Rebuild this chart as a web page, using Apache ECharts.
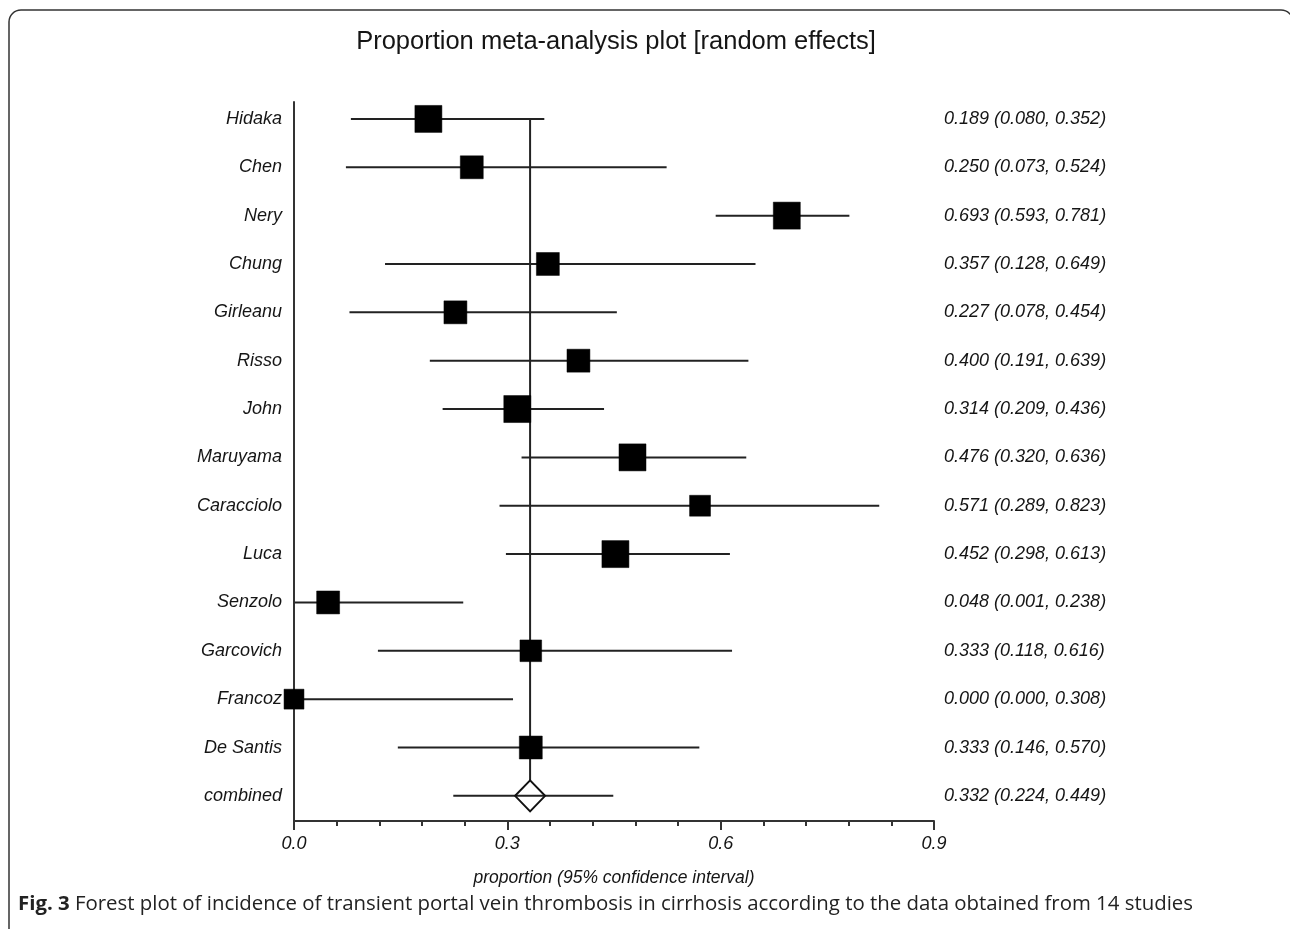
<!DOCTYPE html>
<html>
<head>
<meta charset="utf-8">
<script src="https://cdn.jsdelivr.net/npm/echarts@6/dist/echarts.min.js"></script>
<style>html,body{margin:0;padding:0;background:#fff}#c{width:1290px;height:929px}</style>
</head>
<body>
<div id="c"></div>
<script>
var studies = ['Hidaka','Chen','Nery','Chung','Girleanu','Risso','John','Maruyama','Caracciolo','Luca','Senzolo','Garcovich','Francoz','De Santis'];
var estimates = [0.189,0.250,0.693,0.357,0.227,0.400,0.314,0.476,0.571,0.452,0.048,0.333,0.000,0.333];
var lower = [0.080,0.073,0.593,0.128,0.078,0.191,0.209,0.320,0.289,0.298,0.001,0.118,0.000,0.146];
var upper = [0.352,0.524,0.781,0.649,0.454,0.639,0.436,0.636,0.823,0.613,0.238,0.616,0.308,0.570];
var weights = [9.0,6.5,9.0,6.5,6.5,6.5,9.0,9.0,5.4,9.0,6.5,5.8,4.9,6.5];
var combinedLabel = 'combined';
var combined = [0.332, 0.224, 0.449];
var xTicks = [0, 0.3, 0.6, 0.9];

var chart = echarts.init(document.getElementById('c'), null, {renderer: 'canvas'});
var FONT_IT = 'italic 18px "Liberation Sans", Arial, sans-serif';
var TXT = '#151515';

var rows = studies.map(function (s, i) {
  return [estimates[i], i, lower[i], upper[i], weights[i], s];
});
rows.push([combined[0], studies.length, combined[1], combined[2], 0, combinedLabel]);

function fmt(v) { return v.toFixed(3); }

var option = {
  animation: false,
  backgroundColor: '#fff',
  grid: {left: 294, right: 356, top: 102, bottom: 108, containLabel: false},
  xAxis: {
    type: 'value', min: xTicks[0], max: xTicks[xTicks.length - 1], interval: 0.3,
    axisLine: {show: true, onZero: false, lineStyle: {color: '#333', width: 2}},
    axisTick: {show: true, length: 9, lineStyle: {color: '#333', width: 2}},
    minorTick: {show: true, splitNumber: 5, length: 5, lineStyle: {color: '#333', width: 2}},
    splitLine: {show: false},
    axisLabel: {margin: 14, color: TXT, fontStyle: 'italic', fontSize: 18, fontFamily: 'Liberation Sans',
      formatter: function (v) { return v.toFixed(1); }},
    name: 'proportion (95% confidence interval)', nameLocation: 'middle', nameGap: 48,
    nameTextStyle: {color: TXT, fontStyle: 'italic', fontSize: 17.5, fontFamily: 'Liberation Sans'}
  },
  yAxis: {
    type: 'value', inverse: true, min: -0.35, max: 14.52,
    axisLine: {show: true, onZero: false, lineStyle: {color: '#333', width: 2}},
    axisTick: {show: false}, axisLabel: {show: false}, splitLine: {show: false}
  },
  graphic: [
    {type: 'rect', silent: true, z: 0,
      shape: {x: 9, y: 10, width: 1284, height: 940, r: 12},
      style: {fill: 'none', stroke: '#333', lineWidth: 1.5}},
    {type: 'text', silent: true, x: 616, y: 42,
      style: {text: 'Proportion meta-analysis plot [random effects]', x: 0, y: 0,
        font: '25.5px "Liberation Sans", Arial, sans-serif', fill: TXT, align: 'center', verticalAlign: 'middle'}},
    {type: 'text', silent: true, x: 18, y: 904,
      style: {text: '{b|Fig. 3} Forest plot of incidence of transient portal vein thrombosis in cirrhosis according to the data obtained from 14 studies',
        font: '20.4px "Open Sans", sans-serif', fill: '#222', verticalAlign: 'middle',
        rich: {b: {fontWeight: 'bold', fontSize: 20.4, fontFamily: '"Open Sans", sans-serif', fill: '#222'}}}}
  ],
  series: [
    {
      type: 'custom', clip: false, z: 1,
      data: [[combined[0], 0, studies.length]],
      renderItem: function (params, api) {
        var p0 = api.coord([api.value(0), api.value(1)]);
        var p1 = api.coord([api.value(0), api.value(2)]);
        return {type: 'line', shape: {x1: p0[0], y1: p0[1], x2: p1[0], y2: p1[1] - 15.5},
          style: {stroke: '#222', lineWidth: 2}};
      }
    },
    {
      type: 'custom', clip: false, z: 2,
      data: rows,
      renderItem: function (params, api) {
        var idx = params.dataIndex;
        var r = rows[idx];
        var c = api.coord([r[0], r[1]]);
        var a = api.coord([r[2], r[1]]);
        var b = api.coord([r[3], r[1]]);
        var right = api.coord([0.9, r[1]])[0];
        var left = api.coord([0, r[1]])[0];
        var children = [
          {type: 'line', shape: {x1: a[0], y1: a[1], x2: b[0], y2: b[1]}, style: {stroke: '#222', lineWidth: 2}}
        ];
        if (r[4] > 0) {
          var s = 9 * Math.sqrt(r[4]);
          children.push({type: 'rect', shape: {x: c[0] - s / 2, y: c[1] - s / 2, width: s, height: s},
            style: {fill: '#000', stroke: '#000', lineWidth: 0.5}});
        } else {
          var hw = 15, hh = 15.5;
          children.push({type: 'polygon', shape: {points: [[c[0], c[1] - hh], [c[0] + hw, c[1]], [c[0], c[1] + hh], [c[0] - hw, c[1]]]},
            style: {fill: 'none', stroke: '#111', lineWidth: 2}});
        }
        children.push({type: 'text', style: {text: r[5], x: left - 12, y: c[1], font: FONT_IT, fill: TXT, align: 'right', verticalAlign: 'middle'}});
        children.push({type: 'text', style: {text: fmt(r[0]) + ' (' + fmt(r[2]) + ', ' + fmt(r[3]) + ')', x: right + 10, y: c[1], font: FONT_IT, fill: TXT, align: 'left', verticalAlign: 'middle'}});
        return {type: 'group', children: children};
      }
    }
  ]
};
chart.setOption(option);
</script>
</body>
</html>
